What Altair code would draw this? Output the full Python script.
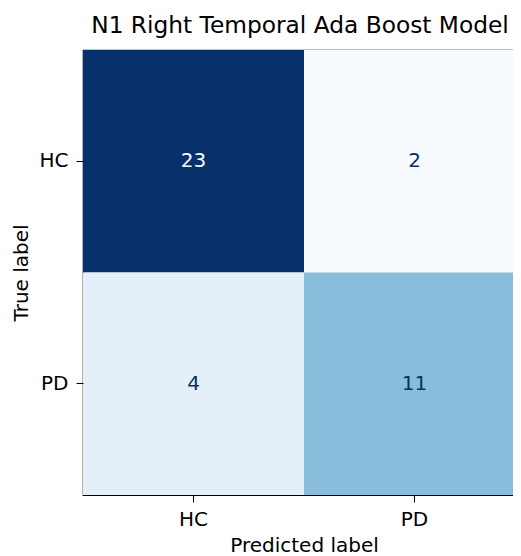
import altair as alt
import pandas as pd

true_labels = ["HC", "HC", "PD", "PD"]
pred_labels = ["HC", "PD", "HC", "PD"]
counts = [23, 2, 4, 11]
classes = ["HC", "PD"]
blues = ["#f7fbff", "#deebf7", "#c6dbef", "#9ecae1", "#6baed6",
         "#4292c6", "#2171b5", "#08519c", "#08306b"]

df = pd.DataFrame({"true": true_labels, "pred": pred_labels, "count": counts})
vmin, vmax = min(counts), max(counts)
dom = [vmin + (vmax - vmin) * i / 8 for i in range(9)]
thresh = (vmin + vmax) / 2

font = "DejaVu Sans"
fs = 20
base = alt.Chart(df)
x = alt.X("pred:N", sort=classes, title="Predicted label",
          scale=alt.Scale(paddingInner=0, paddingOuter=0),
          axis=alt.Axis(labelAngle=0, labelFontSize=fs, titleFontSize=fs,
                        labelFont=font, titleFont=font, labelColor="#000",
                        titleColor="#000", tickSize=7, tickColor="#000",
                        domain=False, labelPadding=7, titlePadding=6,
                        titleFontWeight="normal"))
y = alt.Y("true:N", sort=classes, title="True label",
          scale=alt.Scale(paddingInner=0, paddingOuter=0),
          axis=alt.Axis(labelFontSize=fs, titleFontSize=fs, labelFont=font,
                        titleFont=font, labelColor="#000", titleColor="#000",
                        tickSize=7, tickColor="#000", domain=False,
                        labelPadding=8, titlePadding=7,
                        titleFontWeight="normal"))

rect = base.mark_rect().encode(
    x=x, y=y,
    color=alt.Color("count:Q", legend=None,
                    scale=alt.Scale(domain=dom, range=blues, interpolate="rgb")),
)
text = base.mark_text(fontSize=fs, font=font).encode(
    x=x, y=y,
    text="count:Q",
    color=alt.condition(alt.datum.count > thresh, alt.value("#f7fbff"),
                        alt.value("#08306b")),
)

chart = (rect + text).properties(
    width=442, height=445,
    title=alt.TitleParams("N1 Right Temporal Ada Boost Model", fontSize=23.3,
                          font=font, fontWeight="normal", color="#000",
                          offset=12, dx=-4),
    autosize=alt.AutoSizeParams(type="none"),
    padding={"left": 75, "top": 42, "right": -12, "bottom": 62},
).configure_view(stroke="#000", strokeWidth=1.2)

chart.save("out.html", embed_options={"renderer": "svg", "actions": False})
